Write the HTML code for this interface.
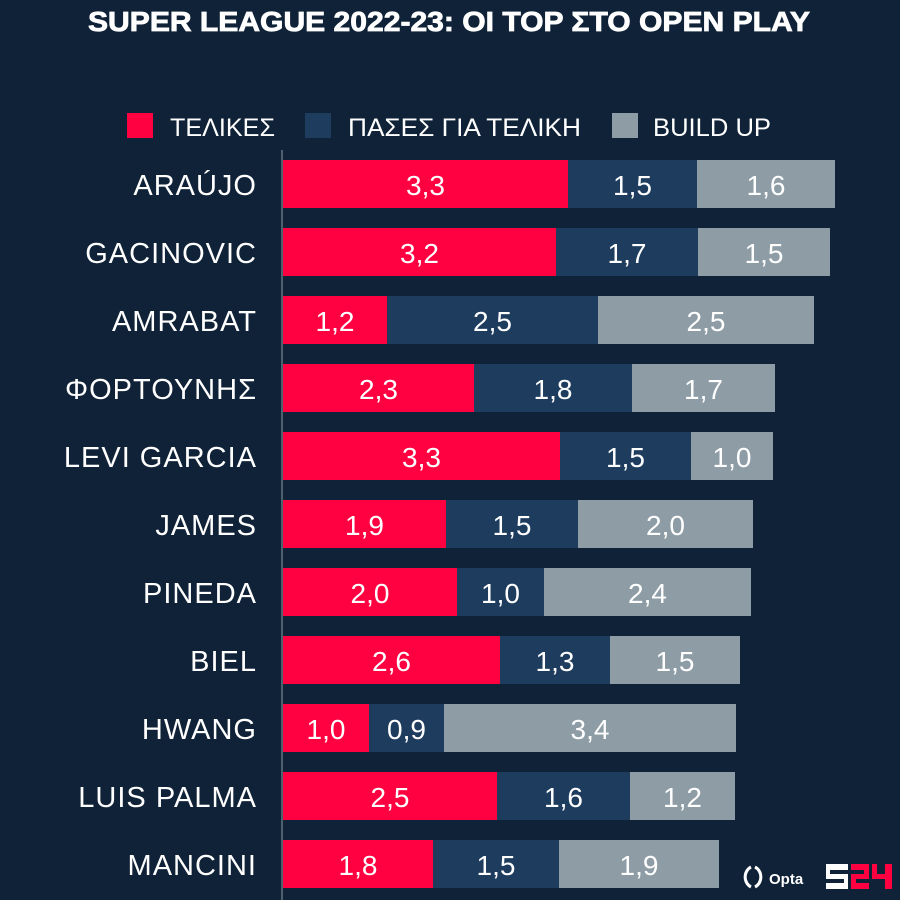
<!DOCTYPE html>
<html><head><meta charset="utf-8"><style>html,body{margin:0;padding:0;background:#0f2237}svg{display:block}</style></head><body>
<svg width="900" height="900" viewBox="0 0 900 900" xmlns="http://www.w3.org/2000/svg" font-family="Liberation Sans, DejaVu Sans, sans-serif">
<rect width="900" height="900" fill="#0f2237"/>
<text x="449" y="31" text-anchor="middle" font-size="28" font-weight="bold" fill="#fff" stroke="#fff" stroke-width="0.8" textLength="722" lengthAdjust="spacingAndGlyphs">SUPER LEAGUE 2022-23: ΟΙ TOP ΣΤΟ OPEN PLAY</text>
<rect x="127" y="113" width="26" height="25" fill="#ff0040"/>
<text x="170" y="136" font-size="25" fill="#fff" textLength="105" lengthAdjust="spacingAndGlyphs">ΤΕΛΙΚΕΣ</text>
<rect x="305" y="113" width="26" height="25" fill="#1d3c5e"/>
<text x="348" y="136" font-size="25" fill="#fff" textLength="233" lengthAdjust="spacingAndGlyphs">ΠΑΣΕΣ ΓΙΑ ΤΕΛΙΚΗ</text>
<rect x="612" y="113" width="26" height="25" fill="#8e9ca6"/>
<text x="653" y="136" font-size="25" fill="#fff" textLength="118" lengthAdjust="spacingAndGlyphs">BUILD UP</text>
<line x1="282" y1="150" x2="282" y2="900" stroke="#8e9ca6" stroke-width="1"/>
<g>
<rect x="283" y="160" width="285" height="48" fill="#ff0040"/><rect x="568" y="160" width="129" height="48" fill="#1d3c5e"/><rect x="697" y="160" width="138" height="48" fill="#8e9ca6"/>
<rect x="283" y="228" width="273" height="48" fill="#ff0040"/><rect x="556" y="228" width="142" height="48" fill="#1d3c5e"/><rect x="698" y="228" width="132" height="48" fill="#8e9ca6"/>
<rect x="283" y="296" width="104" height="48" fill="#ff0040"/><rect x="387" y="296" width="211" height="48" fill="#1d3c5e"/><rect x="598" y="296" width="216" height="48" fill="#8e9ca6"/>
<rect x="283" y="364" width="191" height="48" fill="#ff0040"/><rect x="474" y="364" width="158" height="48" fill="#1d3c5e"/><rect x="632" y="364" width="143" height="48" fill="#8e9ca6"/>
<rect x="283" y="432" width="277" height="48" fill="#ff0040"/><rect x="560" y="432" width="131" height="48" fill="#1d3c5e"/><rect x="691" y="432" width="82" height="48" fill="#8e9ca6"/>
<rect x="283" y="500" width="163" height="48" fill="#ff0040"/><rect x="446" y="500" width="132" height="48" fill="#1d3c5e"/><rect x="578" y="500" width="175" height="48" fill="#8e9ca6"/>
<rect x="283" y="568" width="174" height="48" fill="#ff0040"/><rect x="457" y="568" width="87" height="48" fill="#1d3c5e"/><rect x="544" y="568" width="207" height="48" fill="#8e9ca6"/>
<rect x="283" y="636" width="217" height="48" fill="#ff0040"/><rect x="500" y="636" width="110" height="48" fill="#1d3c5e"/><rect x="610" y="636" width="130" height="48" fill="#8e9ca6"/>
<rect x="283" y="704" width="86" height="48" fill="#ff0040"/><rect x="369" y="704" width="75" height="48" fill="#1d3c5e"/><rect x="444" y="704" width="292" height="48" fill="#8e9ca6"/>
<rect x="283" y="772" width="214" height="48" fill="#ff0040"/><rect x="497" y="772" width="133" height="48" fill="#1d3c5e"/><rect x="630" y="772" width="105" height="48" fill="#8e9ca6"/>
<rect x="283" y="840" width="150" height="48" fill="#ff0040"/><rect x="433" y="840" width="126" height="48" fill="#1d3c5e"/><rect x="559" y="840" width="160" height="48" fill="#8e9ca6"/>
</g>
<g font-size="28" fill="#fff" text-anchor="middle">
<text x="425.5" y="195">3,3</text><text x="632.5" y="195">1,5</text><text x="766" y="195">1,6</text>
<text x="419.5" y="263">3,2</text><text x="627" y="263">1,7</text><text x="764" y="263">1,5</text>
<text x="335" y="331">1,2</text><text x="492.5" y="331">2,5</text><text x="706" y="331">2,5</text>
<text x="378.5" y="399">2,3</text><text x="553" y="399">1,8</text><text x="703.5" y="399">1,7</text>
<text x="421.5" y="467">3,3</text><text x="625.5" y="467">1,5</text><text x="732" y="467">1,0</text>
<text x="364.5" y="535">1,9</text><text x="512" y="535">1,5</text><text x="665.5" y="535">2,0</text>
<text x="370" y="603">2,0</text><text x="500.5" y="603">1,0</text><text x="647.5" y="603">2,4</text>
<text x="391.5" y="671">2,6</text><text x="555" y="671">1,3</text><text x="675" y="671">1,5</text>
<text x="326" y="739">1,0</text><text x="406.5" y="739">0,9</text><text x="590" y="739">3,4</text>
<text x="390" y="807">2,5</text><text x="563.5" y="807">1,6</text><text x="682.5" y="807">1,2</text>
<text x="358" y="875">1,8</text><text x="496" y="875">1,5</text><text x="639" y="875">1,9</text>
</g>
<g font-size="29" fill="#fff" text-anchor="end" letter-spacing="1">
<text x="257" y="195">ARAÚJO</text>
<text x="257" y="263">GACINOVIC</text>
<text x="257" y="331">AMRABAT</text>
<text x="257" y="399">ΦΟΡΤΟΥΝΗΣ</text>
<text x="257" y="467">LEVI GARCIA</text>
<text x="257" y="535">JAMES</text>
<text x="257" y="603">PINEDA</text>
<text x="257" y="671">BIEL</text>
<text x="257" y="739">HWANG</text>
<text x="257" y="807">LUIS PALMA</text>
<text x="257" y="875">MANCINI</text>
</g>
<g transform="translate(745,877)">
<path d="M6 -10 a10 11 0 0 0 0 20 M10 -10 a10 11 0 0 1 0 20" stroke="#fff" stroke-width="3" fill="none"/>
<text x="24" y="7" font-size="15" font-weight="bold" fill="#fff">Opta</text>
</g>
<rect x="826" y="864" width="22" height="25" fill="#fff"/>
<rect x="830" y="870" width="18" height="4" fill="#0f2237"/>
<rect x="826" y="879" width="18" height="4" fill="#0f2237"/>
<rect x="851" y="864" width="18" height="25" fill="#ff0040"/>
<rect x="851" y="870" width="13" height="4" fill="#0f2237"/>
<rect x="856" y="879" width="13" height="4" fill="#0f2237"/>
<rect x="872" y="864" width="20" height="25" fill="#ff0040"/>
<rect x="877" y="864" width="8" height="10" fill="#0f2237"/>
<rect x="872" y="879" width="13" height="10" fill="#0f2237"/>
</svg>
</body></html>
